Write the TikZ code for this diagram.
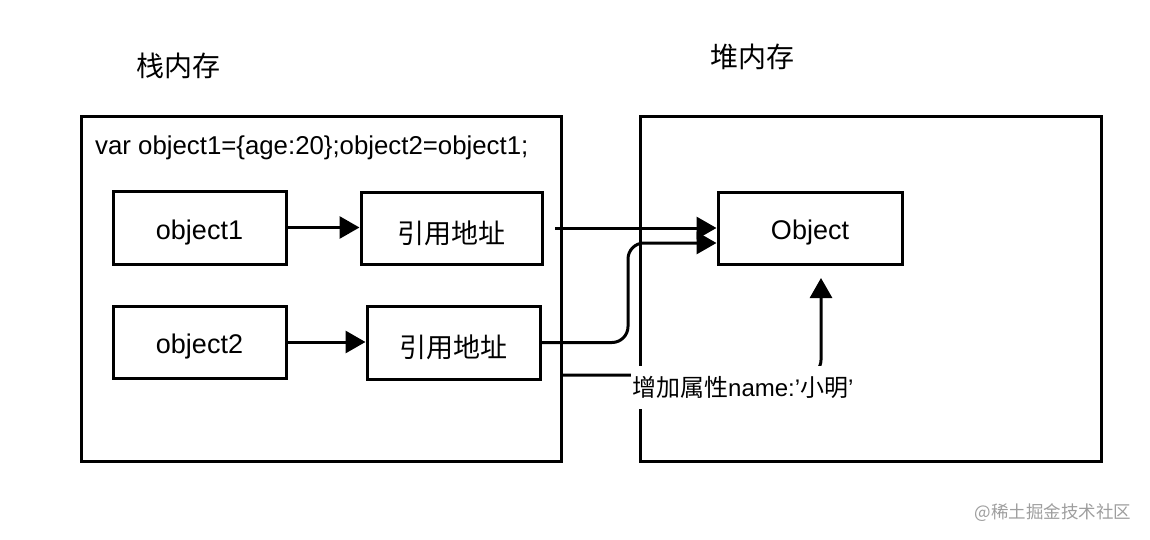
\documentclass[tikz,border=0pt]{standalone}
\usepackage{fontspec}
\setmainfont{Liberation Sans}
\newfontfamily\cjk{Noto Sans CJK SC}
\usetikzlibrary{arrows.meta}
\definecolor{wm}{gray}{0.62}
\begin{document}
\begin{tikzpicture}[x=1pt,y=-1pt,
  frame/.style={draw, line width=3pt, inner sep=0pt},
  lbl/.style={font=\fontsize{27}{32}\selectfont, text height=26pt, text depth=3pt},
  clbl/.style={font=\cjk\fontsize{27}{32}\selectfont, text height=30pt, text depth=0pt},
  con/.style={line width=3pt, -{Triangle[length=20pt,width=22pt]}},
  title/.style={font=\cjk\fontsize{28}{34}\selectfont}]
\useasboundingbox (0,0) rectangle (1150,540);
% titles
\node[title] (t1) at (178,66) {栈内存};
\node[title] (t2) at (752,57) {堆内存};
% containers
\node[frame, minimum width=480pt, minimum height=344pt] (stack) at (321,289) {};
\node[frame, minimum width=461pt, minimum height=344pt] (heap) at (870.5,289) {};
\node[anchor=base west, inner sep=0pt, font=\fontsize{25.8}{30}\selectfont] (code) at (95,154.5) {var object1=\{age:20\};object2=object1;};
% boxes
\node[frame, lbl, minimum width=173pt, minimum height=73pt] (o1) at (199.5,227.5) {object1};
\node[frame, clbl, minimum width=181pt, minimum height=72pt] (r1) at (451.5,228) {引用地址};
\node[frame, lbl, minimum width=173pt, minimum height=72pt] (o2) at (199.5,342) {object2};
\node[frame, clbl, minimum width=173pt, minimum height=73pt] (r2) at (453.5,342.5) {引用地址};
\node[frame, lbl, minimum width=184pt, minimum height=72pt] (obj) at (810,228) {Object};
% connectors
\draw[con] (o1.east) -- (o1.east -| r1.west);
\draw[con] (o2.east) -- (o2.east -| r2.west);
\coordinate (a1s) at (555,228);
\draw[con] (a1s) -- (obj.west);
\coordinate (b1) at (628,342.5);
\coordinate (b2) at (628,243);
\draw[con, rounded corners=16pt] (r2.east) -- (b1) -- (b2) -- (obj.west |- b2);
\coordinate (ls) at (561,375);
\coordinate (lc) at (821,375);
\coordinate (lt) at (821,278);
\draw[con, rounded corners=15pt] (stack.east |- ls) -- (lc) -- (lt);
\node[fill=white, anchor=west, inner xsep=1pt, inner ysep=0pt, minimum height=43pt, font=\fontsize{24}{28}\selectfont] (add) at (631,387) {{\cjk 增加属性}name:’{\cjk 小明}’};
% watermark
\node[text=wm, font=\cjk\fontsize{17.5}{20}\selectfont] (wmk) at (1053,513) {@稀土掘金技术社区};
\end{tikzpicture}
\end{document}
